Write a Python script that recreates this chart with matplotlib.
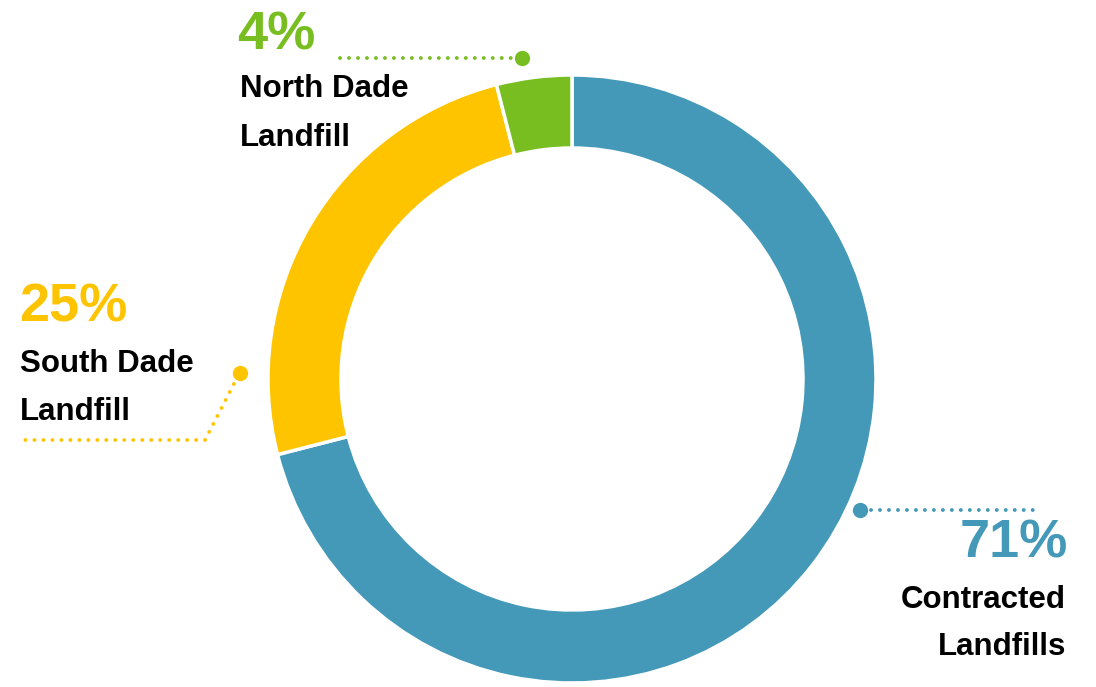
import matplotlib
matplotlib.use("Agg")
import matplotlib.pyplot as plt

labels = ["Contracted\nLandfills", "South Dade\nLandfill", "North Dade\nLandfill"]
values = [71, 25, 4]
pct_labels = ["71%", "25%", "4%"]
colors = ["#4499B8", "#FFC400", "#78BE20"]

W, H = 1096, 687
fig = plt.figure(figsize=(W / 100, H / 100), dpi=100)
ax = fig.add_axes([0, 0, 1, 1])

def Y(y):
    return H - y

cx, cy, R, ring = 572, 379, 304, 73
ax.pie(values, colors=colors, startangle=90, counterclock=False,
       center=(cx, Y(cy)), radius=R, frame=True,
       wedgeprops=dict(width=ring, edgecolor="white", linewidth=2.5))
ax.set_xlim(0, W)
ax.set_ylim(0, H)
ax.set_aspect("auto")
ax.axis("off")

font = "Liberation Sans"
pct_size = 39
lab_size = 22.5

def dotted(xs, ys, color):
    ax.plot(xs, [Y(v) for v in ys], color=color, lw=2.8,
            dashes=(0.01, 2.3), dash_capstyle="round", solid_capstyle="round")

def dot(x, y, color):
    ax.plot([x], [Y(y)], "o", color=color, ms=11, mec="none")

# North Dade (green)
dotted([340, 520], [58, 58], colors[2])
dot(522, 58, colors[2])
ax.text(237, Y(50), pct_labels[2], color=colors[2], fontsize=pct_size,
        fontweight="bold", family=font, ha="left", va="baseline")
ax.text(240, Y(97), labels[2].split("\n")[0], color="black", fontsize=lab_size,
        fontweight="bold", family=font, ha="left", va="baseline")
ax.text(240, Y(146), labels[2].split("\n")[1], color="black", fontsize=lab_size,
        fontweight="bold", family=font, ha="left", va="baseline")

# South Dade (yellow)
dotted([238, 205, 20], [376, 440, 440], colors[1])
dot(240, 373, colors[1])
ax.text(19, Y(322), pct_labels[1], color=colors[1], fontsize=pct_size,
        fontweight="bold", family=font, ha="left", va="baseline")
ax.text(20, Y(372), labels[1].split("\n")[0], color="black", fontsize=lab_size,
        fontweight="bold", family=font, ha="left", va="baseline")
ax.text(20, Y(420), labels[1].split("\n")[1], color="black", fontsize=lab_size,
        fontweight="bold", family=font, ha="left", va="baseline")

# Contracted (blue)
dotted([862, 1035], [510, 510], colors[0])
dot(860, 510, colors[0])
ax.text(1068, Y(558), pct_labels[0], color=colors[0], fontsize=pct_size,
        fontweight="bold", family=font, ha="right", va="baseline")
ax.text(1066, Y(608), labels[0].split("\n")[0], color="black", fontsize=lab_size,
        fontweight="bold", family=font, ha="right", va="baseline")
ax.text(1066, Y(655), labels[0].split("\n")[1], color="black", fontsize=lab_size,
        fontweight="bold", family=font, ha="right", va="baseline")

fig.savefig("out.png", dpi=100, facecolor="white")
